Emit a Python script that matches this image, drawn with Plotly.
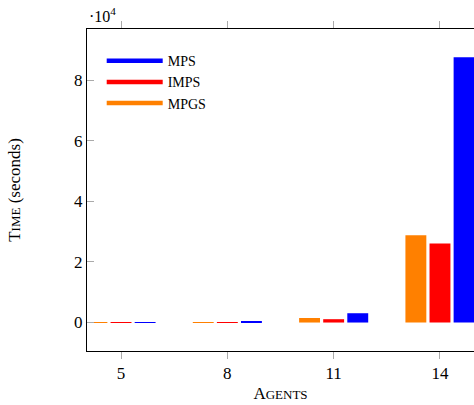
import plotly.graph_objects as go

agents = [5, 8, 11, 14]
mpgs = [40, 100, 1500, 28800]
imps = [40, 120, 1100, 26100]
mps = [50, 250, 3070, 87600]

series = [("MPGS", mpgs, "#ff8000", -0.975),
          ("IMPS", imps, "#ff0000", -0.295),
          ("MPS", mps, "#0000ff", 0.385)]

ytick_vals = [0, 20000, 40000, 60000, 80000]
ytick_text = ["0", "2", "4", "6", "8"]

FONT = "Liberation Serif"
fig = go.Figure()
for name, vals, color, off in series:
    fig.add_trace(go.Bar(x=agents, y=vals, width=0.59, offset=off,
                         marker=dict(color=color, line=dict(width=0)),
                         name=name, showlegend=False))
for name, vals, color, off in reversed(series):
    fig.add_trace(go.Scatter(x=[None], y=[None], mode="lines", name=name,
                             line=dict(color=color, width=4.5)))

fig.update_layout(
    width=474, height=405,
    margin=dict(l=87, r=0, t=29, b=54),
    plot_bgcolor="white", paper_bgcolor="white",
    font=dict(family=FONT, size=16, color="black"),
    barmode="overlay",
    legend=dict(x=0.038, y=0.95, xanchor="left", yanchor="top",
                bgcolor="rgba(0,0,0,0)", font=dict(size=14, family=FONT),
                itemwidth=56, tracegroupgap=0),
    xaxis=dict(range=[4.04, 14.96], tickvals=agents, ticks="outside",
               ticklen=7, tickcolor="#aaaaaa", showline=True, linecolor="black",
               linewidth=1, mirror="ticks", showgrid=False, zeroline=False,
               tickfont=dict(size=17), automargin=False,
               title=dict(text="A<span style='font-size:13px'>GENTS</span>",
                          font=dict(size=17), standoff=4)),
    yaxis=dict(range=[-9400, 96900], tickvals=ytick_vals, ticktext=ytick_text,
               ticks="inside", ticklen=7, tickcolor="#aaaaaa", showline=True,
               linecolor="black", linewidth=1, showgrid=False, zeroline=False,
               tickfont=dict(size=17), automargin=False,
               title=dict(text="T<span style='font-size:13px'>IME</span> (seconds)",
                          font=dict(size=17), standoff=49)),
)
fig.add_annotation(text="·10<sup>4</sup>", xref="paper", yref="paper",
                   x=0, y=1, xanchor="left", yanchor="bottom", yshift=2,
                   showarrow=False, font=dict(size=16, family=FONT))
fig.write_html("out.html", config={"displayModeBar": False},
               post_script="document.body.style.margin='0';"
                           "document.body.style.overflow='hidden';")
